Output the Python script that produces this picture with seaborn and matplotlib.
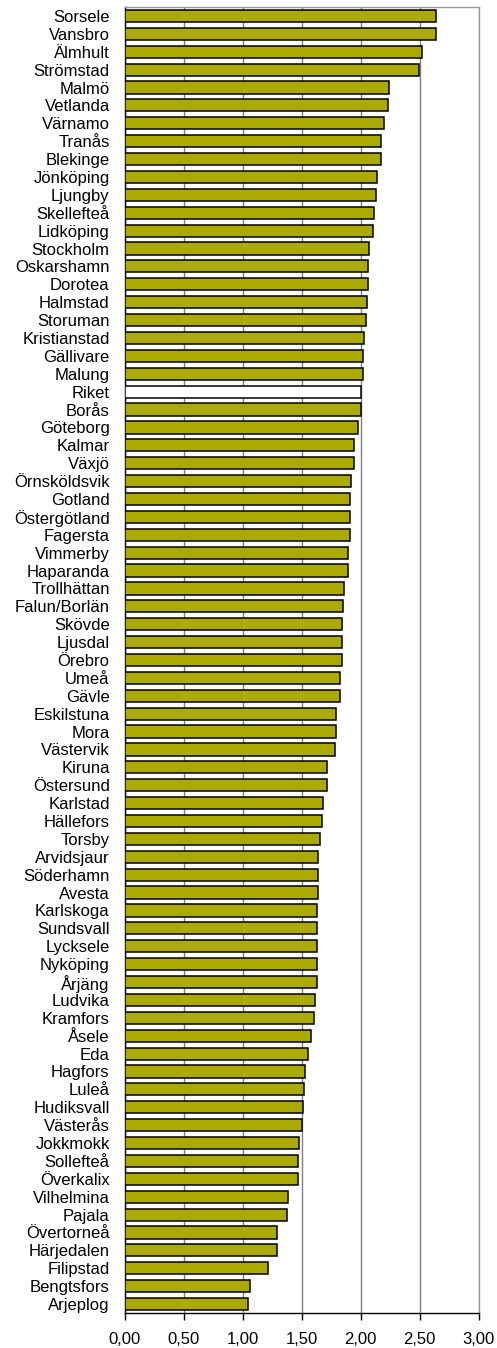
import matplotlib
matplotlib.use("Agg")
import matplotlib.pyplot as plt
import matplotlib.ticker as mticker
import seaborn as sns
import pandas as pd

# Regions / municipalities, top to bottom
regions = [
    "Sorsele", "Vansbro", "Älmhult", "Strömstad", "Malmö", "Vetlanda", "Värnamo",
    "Tranås", "Blekinge", "Jönköping", "Ljungby", "Skellefteå", "Lidköping",
    "Stockholm", "Oskarshamn", "Dorotea", "Halmstad", "Storuman", "Kristianstad",
    "Gällivare", "Malung", "Riket", "Borås", "Göteborg", "Kalmar", "Växjö",
    "Örnsköldsvik", "Gotland", "Östergötland", "Fagersta", "Vimmerby", "Haparanda",
    "Trollhättan", "Falun/Borlän", "Skövde", "Ljusdal", "Örebro", "Umeå", "Gävle",
    "Eskilstuna", "Mora", "Västervik", "Kiruna", "Östersund", "Karlstad",
    "Hällefors", "Torsby", "Arvidsjaur", "Söderhamn", "Avesta", "Karlskoga",
    "Sundsvall", "Lycksele", "Nyköping", "Årjäng", "Ludvika", "Kramfors", "Åsele",
    "Eda", "Hagfors", "Luleå", "Hudiksvall", "Västerås", "Jokkmokk", "Sollefteå",
    "Överkalix", "Vilhelmina", "Pajala", "Övertorneå", "Härjedalen", "Filipstad",
    "Bengtsfors", "Arjeplog",
]

values = [
    2.64, 2.64, 2.52, 2.49, 2.24, 2.23, 2.20,
    2.17, 2.17, 2.14, 2.13, 2.11, 2.10,
    2.07, 2.06, 2.06, 2.05, 2.04, 2.03,
    2.02, 2.02, 2.00, 2.00, 1.98, 1.94, 1.94,
    1.92, 1.91, 1.91, 1.91, 1.89, 1.89,
    1.86, 1.85, 1.84, 1.84, 1.84, 1.82, 1.82,
    1.79, 1.79, 1.78, 1.71, 1.71, 1.68,
    1.67, 1.65, 1.64, 1.64, 1.64, 1.63,
    1.63, 1.63, 1.63, 1.63, 1.61, 1.60, 1.58,
    1.55, 1.53, 1.52, 1.51, 1.50, 1.48, 1.47,
    1.47, 1.38, 1.37, 1.29, 1.29, 1.21,
    1.06, 1.04,
]

national = "Riket"
xticks = [0.0, 0.5, 1.0, 1.5, 2.0, 2.5, 3.0]

bar_color = "#AAAA00"
df = pd.DataFrame({"region": regions, "value": values})
palette = {r: ("white" if r == national else bar_color) for r in regions}

sns.set_style("white")
plt.rcParams["font.family"] = ["Liberation Sans", "DejaVu Sans"]

fig = plt.figure(figsize=(4.97, 13.48), dpi=100)
ax = fig.add_axes([125 / 497, 1 - 1313 / 1348, (478.7 - 125) / 497, (1313 - 7) / 1348])

sns.barplot(
    data=df, x="value", y="region", hue="region", palette=palette,
    order=regions, hue_order=regions, legend=False, orient="h",
    width=0.68, saturation=1, edgecolor="black", linewidth=1.1, ax=ax, zorder=3,
)

ax.set_xlim(0, 3.0)
ax.set_ylim(len(regions) - 0.5, -0.5)
ax.set_xticks(xticks)
ax.xaxis.set_major_formatter(
    mticker.FuncFormatter(lambda v, _: f"{v:.2f}".replace(".", ","))
)
ax.set_xlabel("")
ax.set_ylabel("")

ax.grid(axis="x", color="#808080", linewidth=1.0, zorder=0)
ax.grid(axis="y", visible=False)
ax.set_axisbelow(True)

for side in ("top", "right"):
    ax.spines[side].set_color("#999999")
    ax.spines[side].set_linewidth(1.0)
for side in ("left", "bottom"):
    ax.spines[side].set_color("black")
    ax.spines[side].set_linewidth(1.0)

ax.tick_params(axis="x", direction="out", length=5, width=1, color="black",
               labelsize=12, labelcolor="black", pad=9, bottom=True)
ax.tick_params(axis="y", length=0, labelsize=12, labelcolor="black", pad=11)

fig.savefig("out.png", dpi=100)
